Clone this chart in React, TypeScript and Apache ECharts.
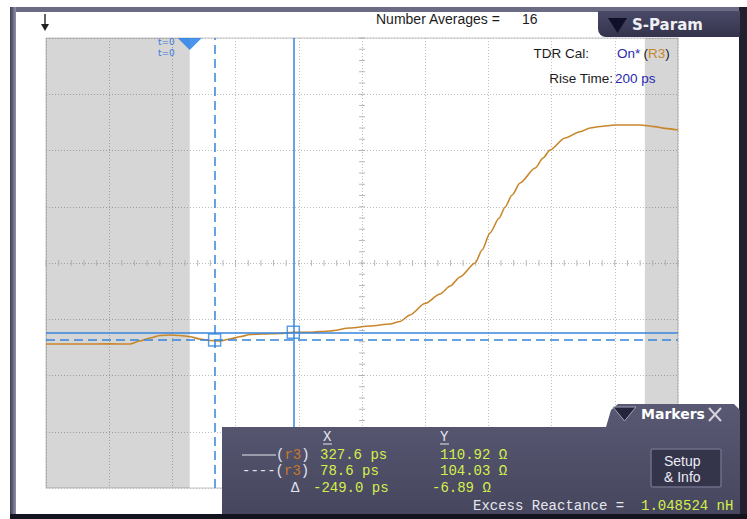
import React, { useEffect, useRef } from "react";
import * as echarts from "echarts";

// ---- Trace data (time in ps, impedance in Ω) ----
const timePs = [
  -455, -347, -253, -189, -158, -126, -94, -63, -31, 1, 32, 64, 96, 127, 159,
  191, 232, 286, 328, 381, 444, 507, 570, 634, 665, 697, 744, 792, 824, 855,
  903, 925, 950, 979, 998, 1020, 1045, 1093, 1118, 1140, 1187, 1235, 1267, 1298,
  1346, 1425, 1472, 1504, 1545,
];
const impedanceOhm = [
  100.5, 100.5, 100.6, 100.5, 103.2, 105.8, 108.1, 108.5, 108.1, 107.0, 104.9,
  103.6, 103.2, 104.9, 107.0, 108.9, 109.4, 109.8, 110.9, 110.9, 112.1, 114.7,
  116.5, 118.3, 120.5, 126.3, 136.5, 144.9, 152.0, 160.1, 172.5, 184.0, 199.2,
  212.5, 222.3, 232.9, 243.6, 256.9, 265.8, 272.9, 283.6, 289.2, 292.5, 293.8,
  295.2, 295.2, 293.7, 292.2, 290.7,
];

// ---- Screen scales ----
const X_MIN_PS = -455;
const X_MAX_PS = 1545;
const Y_MIN_OHM = -27.5;
const Y_MAX_OHM = 372.5;
const X_DIVS = 10;
const Y_DIVS = 8;
const MINOR_PER_DIV = 5;

// ---- Shaded (out of window) regions ----
const shadeLeft = [X_MIN_PS, 0];
const shadeRight = [1440, X_MAX_PS];

// ---- Cursors ----
const cursorSolid = { x: 327.6, y: 110.92 };
const cursorDashed = { x: 78.6, y: 104.03 };
const excessReactanceNh = "1.048524";
const numberAverages = 16;
const riseTimePs = 200;

const BLUE = "#3585dc";
const TRACE = "#c8862a";
const LIME = "#d6ef4a";
const PANEL_TEXT = "#e6e6ee";
const R3 = "#c8782a";
const MONO = '14px "Liberation Mono"';
const SANS = '13.5px "Liberation Sans"';

export default function App() {
  const ref = useRef<HTMLDivElement>(null);

  useEffect(() => {
    if (!ref.current) return;
    const chart = echarts.init(ref.current, undefined, { renderer: "svg" });

    const traceData = timePs.map((t, i) => [t, impedanceOhm[i]]);

    const hTicks: number[][] = [];
    for (let i = -(X_DIVS / 2) * MINOR_PER_DIV; i <= (X_DIVS / 2) * MINOR_PER_DIV; i++) {
      hTicks.push([i / MINOR_PER_DIV, 0]);
    }
    const vTicks: number[][] = [];
    for (let j = -(Y_DIVS / 2) * MINOR_PER_DIV; j <= (Y_DIVS / 2) * MINOR_PER_DIV; j++) {
      vTicks.push([0, j / MINOR_PER_DIV]);
    }

    const dX = (cursorDashed.x - cursorSolid.x).toFixed(1);
    const dY = (cursorDashed.y - cursorSolid.y).toFixed(2);

    const Z = 100;
    const txt = (x: number, y: number, text: string, fill: string, font: string, extra: any = {}) => ({
      type: "text",
      x,
      y,
      z: Z,
      silent: true,
      style: { text, fill, font, align: "left", verticalAlign: "middle", ...extra },
    });

    const graphic: any[] = [
      // window frame
      { type: "rect", z: Z, shape: { x: 10, y: 7, width: 737, height: 5 }, style: { fill: "#6b6b83" } },
      {
        type: "rect", z: Z, shape: { x: 10, y: 7, width: 6, height: 512 },
        style: { fill: new echarts.graphic.LinearGradient(0, 0, 1, 0, [{ offset: 0, color: "#3c3c56" }, { offset: 1, color: "#9090a6" }]) },
      },
      { type: "rect", z: Z, shape: { x: 739, y: 7, width: 8, height: 512 }, style: { fill: "#20202f" } },
      { type: "rect", z: Z, shape: { x: 10, y: 514, width: 737, height: 5 }, style: { fill: "#14141e" } },
      // arrow top-left
      { type: "line", z: Z, shape: { x1: 45, y1: 14, x2: 45, y2: 27 }, style: { stroke: "#222", lineWidth: 1.4 } },
      { type: "polygon", z: Z, shape: { points: [[41, 24], [49, 24], [45, 31]] }, style: { fill: "#222" } },
      // header text
      txt(376, 19, "Number Averages =", "#1c1c1c", '14px "Liberation Sans"'),
      txt(522, 19, String(numberAverages), "#1c1c1c", '14px "Liberation Sans"'),
      // S-Param tab
      {
        type: "rect", z: Z, shape: { x: 598, y: 11, width: 142, height: 26, r: [0, 0, 0, 8] },
        style: { fill: new echarts.graphic.LinearGradient(0, 0, 0, 1, [{ offset: 0, color: "#4a4a68" }, { offset: 1, color: "#33334d" }]) },
      },
      { type: "polygon", z: Z, shape: { points: [[608, 18], [627, 18], [617.5, 33]] }, style: { fill: "#10102a" } },
      txt(632, 25, "S-Param", "#f0f0f4", 'bold 15px "DejaVu Sans"'),
      // TDR cal info
      txt(589, 53, "TDR Cal:", "#1c1c1c", SANS, { align: "right" }),
      {
        type: "text", z: Z, x: 617, y: 53, silent: true,
        style: {
          text: "{b|On*} {k|(}{o|R3}{k|)}",
          verticalAlign: "middle",
          rich: {
            k: { fill: "#1c1c1c", font: SANS },
            b: { fill: "#2a2ab0", font: SANS },
            o: { fill: TRACE, font: SANS },
          },
        },
      },
      txt(613, 78, "Rise Time:", "#1c1c1c", SANS, { align: "right" }),
      txt(615, 78, `${riseTimePs} ps`, "#2a2ab0", SANS),
      // t=0 labels
      txt(158, 42, "t=0", "#3a7ad8", '9px "DejaVu Sans"'),
      txt(158, 53, "t=0", "#3a7ad8", '9px "DejaVu Sans"'),
      // Markers panel
      {
        type: "polygon", z: Z,
        shape: { points: [[222, 427], [606, 427], [611, 410], [618, 404], [734, 404], [740, 410], [740, 514], [222, 514]] },
        style: { fill: new echarts.graphic.LinearGradient(0, 0, 0, 1, [{ offset: 0, color: "#595974" }, { offset: 1, color: "#46465e" }]) },
      },
      { type: "polygon", z: Z, shape: { points: [[613, 407], [636, 407], [624.5, 421]] }, style: { fill: "#24243c", stroke: "#a0a0b8", lineWidth: 1 } },
      txt(641, 414, "Markers", "#ffffff", 'bold 14px "DejaVu Sans"'),
      { type: "line", z: Z, shape: { x1: 709, y1: 408, x2: 721, y2: 421 }, style: { stroke: "#d4d4dc", lineWidth: 2 } },
      { type: "line", z: Z, shape: { x1: 721, y1: 408, x2: 709, y2: 421 }, style: { stroke: "#d4d4dc", lineWidth: 2 } },
      // column headers
      txt(323, 437, "X", PANEL_TEXT, MONO),
      { type: "line", z: Z, shape: { x1: 323, y1: 444, x2: 332, y2: 444 }, style: { stroke: PANEL_TEXT, lineWidth: 1 } },
      txt(440, 437, "Y", PANEL_TEXT, MONO),
      { type: "line", z: Z, shape: { x1: 440, y1: 444, x2: 449, y2: 444 }, style: { stroke: PANEL_TEXT, lineWidth: 1 } },
      // row 1 (solid)
      { type: "line", z: Z, shape: { x1: 242, y1: 455, x2: 276, y2: 455 }, style: { stroke: PANEL_TEXT, lineWidth: 1.2 } },
      {
        type: "text", z: Z, x: 276, y: 455, silent: true,
        style: { text: "{w|(}{o|r3}{w|)}", verticalAlign: "middle", rich: { w: { fill: PANEL_TEXT, font: MONO }, o: { fill: R3, font: MONO } } },
      },
      txt(320, 455, `${cursorSolid.x.toFixed(1)} ps`, LIME, MONO),
      txt(440, 455, `${cursorSolid.y.toFixed(2)} Ω`, LIME, MONO),
      // row 2 (dashed)
      {
        type: "text", z: Z, x: 242, y: 471, silent: true,
        style: { text: "{w|----(}{o|r3}{w|)}", verticalAlign: "middle", rich: { w: { fill: PANEL_TEXT, font: MONO }, o: { fill: R3, font: MONO } } },
      },
      txt(320, 471, `${cursorDashed.x.toFixed(1)} ps`, LIME, MONO),
      txt(440, 471, `${cursorDashed.y.toFixed(2)} Ω`, LIME, MONO),
      // row 3 (delta)
      txt(291, 488, "Δ", PANEL_TEXT, MONO),
      txt(313, 488, `${dX} ps`, LIME, MONO),
      txt(432, 488, `${dY} Ω`, LIME, MONO),
      // excess reactance
      txt(473, 506, "Excess Reactance =", PANEL_TEXT, MONO),
      txt(641, 506, `${excessReactanceNh} nH`, LIME, MONO),
      // Setup & Info button
      {
        type: "rect", z: Z, shape: { x: 651, y: 449, width: 70, height: 38, r: 2 },
        style: { fill: "#34344a", stroke: "#6e6e88", lineWidth: 1.5 },
      },
      txt(664, 461, "Setup", "#ececf4", '14px "Liberation Sans"'),
      txt(664, 477, "& Info", "#ececf4", '14px "Liberation Sans"'),
    ];

    chart.setOption({
      animation: false,
      backgroundColor: "#ffffff",
      grid: {
        left: 46, top: 38, width: 632, height: 450,
        show: true, borderColor: "#c4c4c4", borderWidth: 1, backgroundColor: "transparent",
      },
      xAxis: [
        {
          type: "value", min: -X_DIVS / 2, max: X_DIVS / 2, interval: 1,
          axisLine: { show: false }, axisTick: { show: false }, axisLabel: { show: false },
          splitLine: { show: true, lineStyle: { color: "#bdbdbd", type: [1, 2], width: 1 } },
        },
        { type: "value", min: X_MIN_PS, max: X_MAX_PS, show: false, splitLine: { show: false } },
      ],
      yAxis: [
        {
          type: "value", min: -Y_DIVS / 2, max: Y_DIVS / 2, interval: 1,
          axisLine: { show: false }, axisTick: { show: false }, axisLabel: { show: false },
          splitLine: { show: true, lineStyle: { color: "#bdbdbd", type: [1, 2], width: 1 } },
        },
        { type: "value", min: Y_MIN_OHM, max: Y_MAX_OHM, show: false, splitLine: { show: false } },
      ],
      series: [
        {
          type: "scatter", xAxisIndex: 0, yAxisIndex: 0, data: hTicks, silent: true, z: 1,
          symbol: "rect", symbolSize: [1, 6], itemStyle: { color: "#a8a8a8" },
        },
        {
          type: "scatter", xAxisIndex: 0, yAxisIndex: 0, data: vTicks, silent: true, z: 1,
          symbol: "rect", symbolSize: [6, 1], itemStyle: { color: "#a8a8a8" },
        },
        {
          type: "line", xAxisIndex: 1, yAxisIndex: 1, data: traceData, z: 3,
          showSymbol: false, symbol: "none", silent: true,
          smooth: 0.25, smoothMonotone: "x",
          lineStyle: { color: TRACE, width: 1.6 },
          markArea: {
            silent: true,
            itemStyle: { color: "rgba(0,0,0,0.16)" },
            data: [
              [{ xAxis: shadeLeft[0] }, { xAxis: shadeLeft[1] }],
              [{ xAxis: shadeRight[0] }, { xAxis: shadeRight[1] }],
            ],
          },
          markLine: {
            silent: true, symbol: "none", label: { show: false },
            lineStyle: { color: BLUE, width: 1.5 },
            data: [
              { xAxis: cursorSolid.x, lineStyle: { type: "solid" } },
              { xAxis: cursorDashed.x, lineStyle: { type: [9, 5] } },
              { yAxis: cursorSolid.y, lineStyle: { type: "solid" } },
              { yAxis: cursorDashed.y, lineStyle: { type: [9, 5] } },
            ],
          },
        },
        {
          type: "scatter", xAxisIndex: 1, yAxisIndex: 1, silent: true, z: 5,
          data: [[cursorSolid.x, cursorSolid.y], [cursorDashed.x, cursorDashed.y]],
          symbol: "rect", symbolSize: 12,
          itemStyle: { color: "rgba(0,0,0,0)", borderColor: BLUE, borderWidth: 1.5 },
        },
        {
          type: "scatter", xAxisIndex: 1, yAxisIndex: 1, silent: true, z: 6, clip: false,
          data: [[0, Y_MAX_OHM]],
          symbol: "triangle", symbolRotate: 180, symbolSize: [24, 12], symbolOffset: [0, 6],
          itemStyle: { color: "#1f7be8" },
        },
      ],
      graphic,
    });

    return () => chart.dispose();
  }, []);

  return <div ref={ref} style={{ position: "absolute", left: 0, top: 0, width: 747, height: 519 }} />;
}
